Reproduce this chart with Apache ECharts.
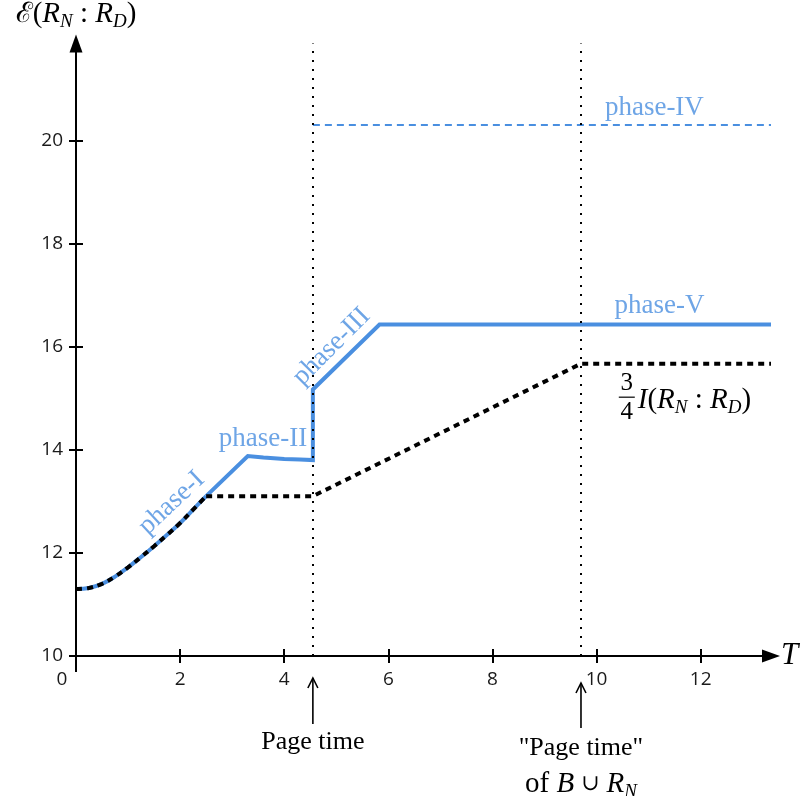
<!DOCTYPE html>
<html>
<head>
<meta charset="utf-8">
<script src="https://cdn.jsdelivr.net/npm/echarts@6/dist/echarts.min.js"></script>
<style>
html,body{margin:0;padding:0;background:#fff;}
#chart{width:805px;height:796px;}
</style>
</head>
<body>
<div id="chart"></div>
<script>
var BLUE = '#4a8fe0';
var SERIF = 'Liberation Serif';

// phase-I curve, shared by both lines
var curveX = [0, 0.25, 0.5, 0.75, 1.0, 1.25, 1.5, 1.75, 2.0, 2.25, 2.5];
var curveY = [11.3, 11.32, 11.4, 11.54, 11.72, 11.92, 12.13, 12.35, 12.58, 12.84, 13.1];
// entanglement after phase-I (blue)
var entX = [2.5, 3.3, 3.6, 4.0, 4.3, 4.55, 4.55, 5.83, 13.35];
var entY = [13.1, 13.88, 13.85, 13.82, 13.81, 13.8, 15.17, 16.43, 16.43];
// 3/4 I(RN:RD) after phase-I (black dashed)
var boundX = [2.5, 4.55, 9.7, 13.35];
var boundY = [13.1, 13.1, 15.67, 15.67];
// phase-IV level
var p4X = [4.55, 13.35];
var p4Y = [20.3, 20.3];
// page times
var pageTimes = [4.55, 9.7];

var xTicks = [0, 2, 4, 6, 8, 10, 12];
var yTicks = [10, 12, 14, 16, 18, 20];

var phaseNames = ['phase-I', 'phase-II', 'phase-III', 'phase-IV', 'phase-V'];
var phaseX = [1.84, 3.59, 4.91, 11.11, 11.21];
var phaseY = [12.97, 14.21, 16.0, 20.63, 16.79];
var phaseRot = [43, 0, 45, 0, 0];

function zip(xs, ys) {
	return xs.map(function (x, i) { return [x, ys[i]]; });
}

var myChart = echarts.init(document.getElementById('chart'));

var mathRich = {
	n: {fontFamily: SERIF, fontSize: 29, color: '#000'},
	i: {fontFamily: SERIF, fontStyle: 'italic', fontSize: 29, color: '#000'},
	e: {fontFamily: 'DejaVu Serif', fontSize: 28, color: '#000'},
	s: {fontFamily: SERIF, fontStyle: 'italic', fontSize: 19, color: '#000', padding: [15, 0, 0, 0]}
};

var tickFont = {fontFamily: 'Open Sans', fontSize: 19, color: '#1a1a1a'};

var xAxisBase = {
	type: 'value', min: 0, max: 13.35, interval: 2, position: 'bottom',
	splitLine: {show: false}
};
var yAxisBase = {
	type: 'value', min: 10, max: 21.88, interval: 2, position: 'left',
	splitLine: {show: false}
};

option = {
	backgroundColor: '#fff',
	animation: false,
	grid: {left: 76, right: 34, top: 38, bottom: 140},
	xAxis: [
		Object.assign({}, xAxisBase, {
			axisLine: {symbol: ['none', 'triangle'], symbolSize: [13, 18], lineStyle: {color: '#000', width: 2}},
			axisTick: {length: 7, lineStyle: {color: '#000', width: 2}, customValues: xTicks},
			axisLabel: {
				showMaxLabel: false, margin: 14,
				fontFamily: tickFont.fontFamily, fontSize: tickFont.fontSize, color: tickFont.color,
				formatter: function (v) {
					if (xTicks.indexOf(v) < 0) return '';
					return v === 0 ? '{z|0}' : '{t|' + v + '}';
				},
				rich: {
					z: Object.assign({padding: [0, 28, 0, 0]}, tickFont),
					t: tickFont
				}
			},
			name: 'T', nameLocation: 'end', nameGap: 10,
			nameTextStyle: {fontFamily: SERIF, fontStyle: 'italic', fontSize: 31, color: '#000'}
		}),
		Object.assign({}, xAxisBase, {
			axisLine: {show: false},
			axisTick: {inside: true, length: 7, lineStyle: {color: '#000', width: 2}, customValues: xTicks},
			axisLabel: {show: false}
		})
	],
	yAxis: [
		Object.assign({}, yAxisBase, {
			axisLine: {symbol: ['none', 'triangle'], symbolSize: [13, 18], lineStyle: {color: '#000', width: 2}},
			axisTick: {length: 7, lineStyle: {color: '#000', width: 2}, customValues: yTicks},
			axisLabel: {
				showMaxLabel: false, margin: 13,
				fontFamily: tickFont.fontFamily, fontSize: tickFont.fontSize, color: tickFont.color,
				formatter: function (v) { return yTicks.indexOf(v) < 0 ? '' : '{t|' + v + '}'; },
				rich: {t: tickFont}
			},
			name: '{e|ℰ}{n|(}{i|R}{s|N}{n| : }{i|R}{s|D}{n|)}',
			nameLocation: 'end', nameGap: 12,
			nameTextStyle: {rich: mathRich, align: 'center'}
		}),
		Object.assign({}, yAxisBase, {
			axisLine: {show: false},
			axisTick: {inside: true, length: 7, lineStyle: {color: '#000', width: 2}, customValues: yTicks},
			axisLabel: {show: false}
		})
	],
	series: [
		{
			name: 'page', type: 'line', data: [], silent: true,
			markLine: {
				silent: true, symbol: 'none', label: {show: false},
				lineStyle: {color: '#000', width: 2, type: [2, 7]},
				data: pageTimes.map(function (t) { return {xAxis: t}; })
			}
		},
		{
			name: 'curve', type: 'line', data: zip(curveX, curveY), smooth: 0.4,
			showSymbol: false, z: 2, lineStyle: {color: BLUE, width: 4}
		},
		{
			name: 'ent', type: 'line', data: zip(entX, entY),
			showSymbol: false, z: 2, lineStyle: {color: BLUE, width: 4, join: 'miter'}
		},
		{
			name: 'p4', type: 'line', data: zip(p4X, p4Y),
			showSymbol: false, z: 2, lineStyle: {color: BLUE, width: 2, type: [7, 5]}
		},
		{
			name: 'boundCurve', type: 'line', data: zip(curveX, curveY), smooth: 0.4,
			showSymbol: false, z: 3, lineStyle: {color: '#000', width: 4, type: [6, 5]}
		},
		{
			name: 'bound', type: 'line', data: zip(boundX, boundY),
			showSymbol: false, z: 3, lineStyle: {color: '#000', width: 4, type: [6, 5]}
		},
		{
			name: 'labels', type: 'scatter', symbolSize: 1, z: 4, silent: true,
			itemStyle: {color: 'rgba(0,0,0,0)'},
			label: {
				show: true, position: 'inside', formatter: '{b}',
				fontFamily: SERIF, fontSize: 27, color: BLUE
			},
			data: phaseNames.map(function (n, i) {
				return {name: n, value: [phaseX[i], phaseY[i]], label: {rotate: phaseRot[i]}};
			})
		}
	]
};
myChart.setOption(option);

// annotations placed from data coordinates
function px(x, y) { return myChart.convertToPixel({gridIndex: 0}, [x, y]); }

var g = [];
var origin = px(0, 10);
g.push({type: 'line', shape: {x1: origin[0], y1: origin[1], x2: origin[0], y2: origin[1] + 16},
	style: {stroke: '#000', lineWidth: 2}});

pageTimes.forEach(function (t, k) {
	var p = px(t, 10);
	var top = p[1] + (k === 0 ? 22 : 27);
	var bot = p[1] + (k === 0 ? 68 : 72);
	g.push({type: 'line', shape: {x1: p[0], y1: top, x2: p[0], y2: bot}, style: {stroke: '#000', lineWidth: 1.6}});
	g.push({type: 'polyline', shape: {points: [[p[0] - 5, top + 10], [p[0], top], [p[0] + 5, top + 10]]},
		style: {stroke: '#000', lineWidth: 1.6, fill: null}});
});

var pt1 = px(pageTimes[0], 10);
g.push({type: 'text', x: pt1[0], y: pt1[1] + 86,
	style: {text: 'Page time', font: '26px "Liberation Serif"', fill: '#000', align: 'center', verticalAlign: 'middle'}});
var pt2 = px(pageTimes[1], 10);
g.push({type: 'text', x: pt2[0], y: pt2[1] + 92,
	style: {text: '"Page time"', font: '26px "Liberation Serif"', fill: '#000', align: 'center', verticalAlign: 'middle'}});
g.push({type: 'text', x: pt2[0], y: pt2[1] + 128,
	style: {text: '{n|of }{i|B}{u| ∪ }{i|R}{s|N}', rich: Object.assign({u: {fontFamily: 'DejaVu Serif', fontSize: 22, color: '#000'}}, mathRich),
		align: 'center', verticalAlign: 'middle'}});

// 3/4 I(RN:RD)
var fr = px(10.58, 15.02);
g.push({type: 'text', x: fr[0], y: fr[1] - 14,
	style: {text: '3', font: '25px "Liberation Serif"', fill: '#000', align: 'center', verticalAlign: 'middle'}});
g.push({type: 'line', shape: {x1: fr[0] - 8, y1: fr[1], x2: fr[0] + 8, y2: fr[1]}, style: {stroke: '#000', lineWidth: 1.2}});
g.push({type: 'text', x: fr[0], y: fr[1] + 15,
	style: {text: '4', font: '25px "Liberation Serif"', fill: '#000', align: 'center', verticalAlign: 'middle'}});
g.push({type: 'text', x: fr[0] + 11, y: fr[1] + 3,
	style: {text: '{i|I}{n|(}{i|R}{s|N}{n| : }{i|R}{s|D}{n|)}', rich: mathRich, align: 'left', verticalAlign: 'middle'}});

myChart.setOption({graphic: g});
</script>
</body>
</html>
